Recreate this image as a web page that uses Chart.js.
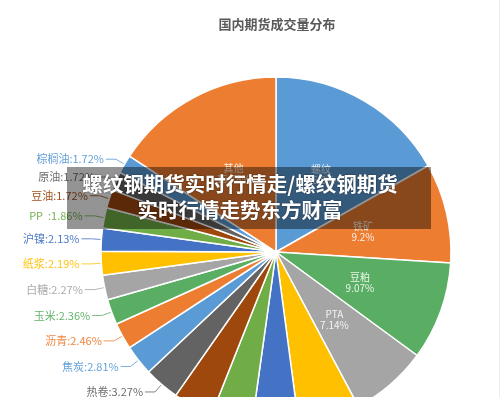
<!DOCTYPE html>
<html>
<head>
<meta charset="utf-8">
<script src="https://cdn.jsdelivr.net/npm/chart.js@4/dist/chart.umd.min.js"></script>
<style>
  html, body { margin: 0; padding: 0; background: #fff; }
  body { width: 500px; height: 397px; overflow: hidden; position: relative; font-family: "Noto Sans CJK SC", "Noto Sans", sans-serif; }
  #c { position: absolute; left: 0; top: 0; }
  #banner { position: absolute; left: 67px; top: 167px; width: 364px; height: 62px; background: rgba(0,0,0,0.42); }
  #bannerText { position: absolute; left: 67px; top: 170px; width: 346px; text-align: center; color: #fff;
    font-family: "Noto Sans CJK SC", sans-serif; font-weight: 700; font-size: 20.5px; line-height: 26px;
    text-shadow: 0 0 2px rgba(0,0,0,0.55); white-space: nowrap; }
  #edge { position: absolute; left: 499px; top: 0; width: 1px; height: 397px; background: #ececec; }
</style>
</head>
<body>
<canvas id="c" width="500" height="504"></canvas>
<div id="banner"></div>
<div id="bannerText">螺纹钢期货实时行情走/螺纹钢期货<br>实时行情走势东方财富</div>
<div id="edge"></div>
<script>
const chartTitle = '国内期货成交量分布';
const categories = ['螺纹','铁矿','豆粕','PTA','甲醇','菜粕','橡胶','棉花','热卷','焦炭','沥青','玉米','白糖','纸浆','沪镍','PP  ','豆油','原油','棕榈油','其他'];
const shares = [16.8, 9.2, 9.07, 7.14, 5.7, 4.3, 3.8, 3.7, 3.27, 2.81, 2.46, 2.36, 2.27, 2.19, 2.13, 1.86, 1.72, 1.72, 1.72, 15.78];
const palette = ['#5B9BD5','#ED7D31','#5AAE63','#A5A5A5','#FFC000','#4472C4','#70AD47','#9E480E','#636363'];
const sliceColors = categories.map((_, i) => palette[i % palette.length]);
const insideThreshold = 7;

const labelPlugin = {
  id: 'pieLabels',
  afterDatasetsDraw(chart) {
    const ctx = chart.ctx;
    const meta = chart.getDatasetMeta(0);
    meta.data.forEach((arc, i) => {
      const v = shares[i];
      const {x, y, startAngle, endAngle, outerRadius} = arc.getProps(['x','y','startAngle','endAngle','outerRadius'], true);
      const a = (startAngle + endAngle) / 2;
      const cos = Math.cos(a), sin = Math.sin(a);
      ctx.save();
      if (v >= insideThreshold) {
        const r = outerRadius * 0.51;
        const px = x + r * cos, py = y + r * sin;
        ctx.fillStyle = 'rgba(255,255,255,0.88)';
        ctx.font = '10px "Noto Sans CJK SC", "Noto Sans", sans-serif';
        ctx.textAlign = 'center';
        ctx.textBaseline = 'middle';
        ctx.fillText(categories[i], px, py - 5.5);
        ctx.fillText(v + '%', px, py + 5.5);
      } else {
        const ex = x + (outerRadius + 10) * cos, ey = y + (outerRadius + 10) * sin;
        const sx = x + (outerRadius + 1) * cos, sy = y + (outerRadius + 1) * sin;
        const dir = cos < 0 ? -1 : 1;
        ctx.strokeStyle = sliceColors[i];
        ctx.globalAlpha = 0.8;
        ctx.lineWidth = 1;
        ctx.beginPath();
        ctx.moveTo(sx, sy);
        ctx.lineTo(ex, ey);
        ctx.lineTo(ex + dir * 10, ey);
        ctx.stroke();
        ctx.globalAlpha = 0.95;
        ctx.fillStyle = sliceColors[i];
        ctx.font = '11px "Noto Sans CJK SC", "Noto Sans", sans-serif';
        ctx.textAlign = dir < 0 ? 'right' : 'left';
        ctx.textBaseline = 'middle';
        ctx.fillText(categories[i] + ':' + v + '%', ex + dir * 12, ey);
      }
      ctx.restore();
    });
  },
  afterDraw(chart) {
    const ctx = chart.ctx;
    ctx.save();
    ctx.fillStyle = '#595959';
    ctx.font = 'bold 13px "Noto Sans CJK SC", sans-serif';
    ctx.textAlign = 'center';
    ctx.textBaseline = 'middle';
    ctx.fillText(chartTitle, 277, 24);
    ctx.restore();
  }
};

new Chart(document.getElementById('c'), {
  type: 'pie',
  data: {
    labels: categories,
    datasets: [{
      data: shares,
      backgroundColor: sliceColors,
      borderColor: '#ffffff',
      borderWidth: 1.5,
      radius: 175,
      clip: false
    }]
  },
  options: {
    responsive: false,
    devicePixelRatio: 1,
    animation: false,
    layout: { padding: { left: 52, right: 0, top: 0, bottom: 0 } },
    plugins: { legend: { display: false }, tooltip: { enabled: false }, title: { display: false } }
  },
  plugins: [labelPlugin]
});
</script>
</body>
</html>
